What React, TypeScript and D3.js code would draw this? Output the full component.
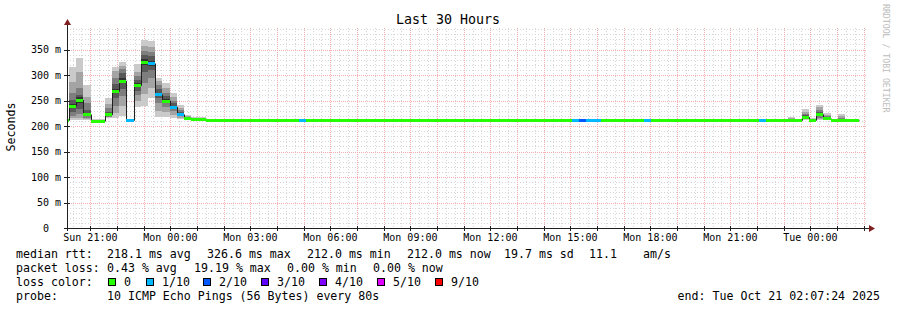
import React from "react";
import * as d3 from "d3";

// ---------- data ----------
const chartTitle = "Last 30 Hours";
const yAxisTitle = "Seconds";
const watermark = "RRDTOOL / TOBI OETIKER";

const startTime = new Date(Date.UTC(2025, 9, 19, 20, 7, 24));
const endTime = new Date(Date.UTC(2025, 9, 21, 2, 7, 24));
const firstStepTime = new Date(Date.UTC(2025, 9, 19, 19, 55, 44));
const stepSeconds = 970;
const yMax = 392.16;

const yTickValues = [0, 50, 100, 150, 200, 250, 300, 350];
const yTickLabels = ["0  ", "50 m", "100 m", "150 m", "200 m", "250 m", "300 m", "350 m"];

// median rtt (ms) per step
const medianRtt = [
  212, 240, 251, 223, 210.5, 210.5, 223, 269, 289, 212,
  280, 326, 323, 262, 250, 238, 223, 216, 214, 214,
  212, 212, 212, 212, 212, 212, 212, 212, 212, 212,
  212, 212, 212, 212, 212, 212, 212, 212, 212, 212,
  212, 212, 212, 212, 212, 212, 212, 212, 212, 212,
  212, 212, 212, 212, 212, 212, 212, 212, 212, 212,
  212, 212, 212, 212, 212, 212, 212, 212, 212, 212,
  212, 212, 212, 212, 212, 212, 212, 212, 212, 212,
  212, 212, 212, 212, 212, 212, 212, 212, 212, 212,
  212, 212, 212, 212, 212, 212, 212, 212, 212, 212,
  212, 212, 212, 218, 212, 223, 215, 212, 212, 212,
  212,
];

// lost pings (of 10) per step
const lostPings = [
  0, 0, 0, 0, 0, 0, 0, 0, 0, 1,
  0, 0, 1, 1, 0, 1, 1, 0, 0, 0,
  0, 0, 0, 0, 0, 0, 0, 0, 0, 0,
  0, 0, 0, 1, 0, 0, 0, 0, 0, 0,
  0, 0, 0, 0, 0, 0, 0, 0, 0, 0,
  0, 0, 0, 0, 0, 0, 0, 0, 0, 0,
  0, 0, 0, 0, 0, 0, 0, 0, 0, 0,
  0, 1, 2, 1, 1, 0, 0, 0, 0, 0,
  0, 1, 0, 0, 0, 0, 0, 0, 0, 0,
  0, 0, 0, 0, 0, 0, 0, 1, 0, 0,
  0, 0, 0, 0, 0, 0, 0, 0, 0, 0,
  0,
];

// steps with visible smoke and their sorted ping times (ms)
const smokeSteps = [1, 2, 3, 4, 5, 6, 7, 8, 9, 10, 11, 12, 13, 14, 15, 16, 17, 18, 19, 101, 103, 104, 105, 106, 108];
const smokePings = [
  [212, 215, 220, 228, 236, 244, 251, 265, 287, 316],
  [212, 216, 224, 234, 246, 256, 261, 274, 305, 333],
  [211, 213, 216, 219, 221, 225, 232, 245, 257, 280],
  [209, 209, 210, 210, 210, 211, 211, 212, 212, 213],
  [209, 210, 210, 210, 210, 211, 211, 211, 212, 213],
  [215, 217, 218, 220, 222, 224, 228, 235, 243, 254],
  [216, 225, 240, 255, 265, 273, 282, 295, 307, 316],
  [220, 240, 258, 272, 284, 294, 303, 312, 318, 326],
  [211, 211, 212, 212, 212, 212, 213, 213, 213, 213],
  [238, 250, 260, 268, 276, 284, 290, 298, 306, 321],
  [239, 262, 285, 305, 320, 332, 340, 348, 356, 369],
  [255, 275, 295, 310, 318, 328, 338, 346, 354, 367],
  [218, 230, 245, 255, 260, 265, 272, 280, 288, 295],
  [218, 228, 238, 245, 249, 253, 258, 265, 274, 285],
  [216, 222, 230, 235, 237, 240, 245, 250, 257, 264],
  [214, 216, 219, 221, 222, 224, 227, 231, 236, 241],
  [213, 214, 215, 215, 216, 216, 217, 218, 219, 221],
  [212, 213, 213, 214, 214, 214, 215, 215, 216, 217],
  [212, 213, 213, 214, 214, 214, 215, 215, 216, 217],
  [211, 211, 212, 212, 212, 212, 213, 213, 215, 218],
  [212, 213, 214, 215, 217, 219, 221, 224, 228, 233],
  [210, 211, 211, 212, 212, 212, 213, 213, 214, 216],
  [212, 214, 216, 219, 222, 224, 228, 232, 237, 242],
  [211, 212, 213, 214, 214, 216, 217, 219, 222, 226],
  [211, 211, 212, 212, 212, 212, 213, 215, 219, 223],
];

const smokeGreys = ["#cacaca", "#a4a4a4", "#7e7e7e", "#585858", "#323232"];

const lossThresholds = [0, 1, 2, 3, 4, 5, 9];
const lossLabels = ["0", "1/10", "2/10", "3/10", "4/10", "5/10", "9/10"];
const lossColors = ["#26ff00", "#00b8ff", "#0059ff", "#5e00ff", "#7e00ff", "#dd00ff", "#ff0000"];

const medianLabel = "median rtt:";
const medianStats = ["218.1 ms avg", "326.6 ms max", "212.0 ms min", "212.0 ms now", "19.7 ms sd", "11.1", "am/s"];
const lossLabel = "packet loss:";
const lossStats = ["0.43 % avg", "19.19 % max", "0.00 % min", "0.00 % now"];
const lossColorLabel = "loss color:";
const probeLabel = "probe:";
const probeText = "10 ICMP Echo Pings (56 Bytes) every 80s";
const endText = "end: Tue Oct 21 02:07:24 2025";

// ---------- layout ----------
const W = 897;
const H = 310;
const L = 67;
const R = 867;
const T = 28;
const B = 228;
const MONO = "'DejaVu Sans Mono', monospace";
const medianStatX = [107, 207, 307, 407, 504, 589, 643];
const lossStatX = [107, 194, 287, 373];
const lossBoxX = [108, 146, 203, 261, 319, 377, 435];
const GRID = "#d6d6d6";
const MGRID = "#f2b0b0";

function lossColor(lost: number) {
  let c = lossColors[0];
  lossThresholds.forEach((t, i) => {
    if (lost >= t) c = lossColors[i];
  });
  return c;
}

export default function App() {
  const x = d3.scaleUtc().domain([startTime, endTime]).range([L, R]);
  const y = d3.scaleLinear().domain([0, yMax]).range([B, T]);

  const stepStart = (i: number) => new Date(firstStepTime.getTime() + i * stepSeconds * 1000);
  const sx = (i: number) => Math.max(L, Math.min(R, Math.round(x(stepStart(i)))));

  const minorH = d3.range(10, 391, 10).filter((v) => v % 50 !== 0);
  const majorH = yTickValues.filter((v) => v > 0);
  const minorV = d3.utcMinute.every(20)!.range(startTime, endTime).filter((d) => d.getUTCMinutes() !== 0);
  const majorV = d3.utcHour.range(startTime, endTime);
  const labelTimes = d3.utcHour.every(3)!.range(startTime, endTime);
  const fmt = d3.utcFormat("%a %H:%M");

  const medianPts: [number, number][] = medianRtt.map((m, i) => [sx(i), y(m)]);
  medianPts.push([sx(medianRtt.length), y(medianRtt[medianRtt.length - 1])]);
  const medianPath = d3.line().curve(d3.curveStepAfter)(medianPts) || "";

  const yr = (v: number) => Math.round(y(v));

  return (
    <svg width={W} height={H} style={{ position: "absolute", left: 0, top: 0, background: "#fff" }}
      xmlns="http://www.w3.org/2000/svg">
      <rect x={0} y={0} width={W} height={H} fill="#ffffff" />
      <defs>
        <clipPath id="plot">
          <rect x={L} y={T - 2} width={R - L} height={B - T + 2} />
        </clipPath>
      </defs>

      {/* grid */}
      <g shapeRendering="crispEdges">
        {minorH.map((v) => (
          <line key={"mh" + v} x1={L} x2={R} y1={yr(v) + 0.5} y2={yr(v) + 0.5}
            stroke={GRID} strokeDasharray="1,2" />
        ))}
        {minorV.map((d) => (
          <line key={"mv" + d.getTime()} x1={Math.round(x(d)) + 0.5} x2={Math.round(x(d)) + 0.5} y1={T} y2={B}
            stroke={GRID} strokeDasharray="1,2" />
        ))}
        {majorH.map((v) => (
          <line key={"Mh" + v} x1={L} x2={R} y1={yr(v) + 0.5} y2={yr(v) + 0.5}
            stroke={MGRID} strokeDasharray="1,1" />
        ))}
        {majorV.map((d) => (
          <line key={"Mv" + d.getTime()} x1={Math.round(x(d)) + 0.5} x2={Math.round(x(d)) + 0.5} y1={T} y2={B}
            stroke={MGRID} strokeDasharray="1,1" />
        ))}
      </g>

      <g clipPath="url(#plot)">
        {/* smoke */}
        <g shapeRendering="crispEdges">
          {smokeSteps.map((s, k) => {
            const p = smokePings[k];
            const n = p.length;
            return smokeGreys.map((g, j) => {
              const lo = p[j];
              const hi = p[n - 1 - j];
              if (hi <= lo) return null;
              return (
                <rect key={"s" + s + "_" + j} x={sx(s)} width={sx(s + 1) - sx(s)}
                  y={y(hi)} height={y(lo) - y(hi)} fill={g} />
              );
            });
          })}
        </g>
        {/* median line */}
        <path d={medianPath} fill="none" stroke="#202020" strokeWidth={1} transform="translate(0.5,0.5)" />
        {/* loss coloured median bands */}
        <g shapeRendering="crispEdges">
          {medianRtt.map((m, i) => (
            <rect key={"m" + i} x={sx(i)} width={sx(i + 1) - sx(i)} y={Math.round(y(m) - 1)} height={3}
              fill={lossColor(lostPings[i])} />
          ))}
        </g>
      </g>

      {/* axes */}
      <g shapeRendering="crispEdges" stroke="#1f1f1f">
        <line x1={L + 0.5} x2={L + 0.5} y1={B + 3} y2={T - 4} />
        <line x1={L - 3} x2={R + 2} y1={B + 0.5} y2={B + 0.5} />
        {majorH.concat([0]).map((v) => (
          <line key={"yt" + v} x1={L - 3} x2={L + 3} y1={yr(v) + 0.5} y2={yr(v) + 0.5} />
        ))}
        {majorV.map((d) => (
          <line key={"xt" + d.getTime()} x1={Math.round(x(d)) + 0.5} x2={Math.round(x(d)) + 0.5} y1={B - 2} y2={B + 3} />
        ))}
      </g>
      <path d={`M${L - 3},${T - 3} L${L + 4},${T - 3} L${L + 0.5},${T - 9} Z`} fill="#801f1f" />
      <path d={`M${R + 2},${B - 3} L${R + 2},${B + 4} L${R + 8},${B + 0.5} Z`} fill="#801f1f" />

      {/* tick labels */}
      <g fontFamily={MONO} fontSize={10} fill="#000">
        {yTickValues.map((v, i) => (
          <text key={"yl" + v} x={61} y={y(v) + 3.5} textAnchor="end" style={{ whiteSpace: "pre" }}>
            {yTickLabels[i]}
          </text>
        ))}
        {labelTimes.map((d) => (
          <text key={"xl" + d.getTime()} x={x(d)} y={241} textAnchor="middle">
            {fmt(d)}
          </text>
        ))}
      </g>

      {/* titles */}
      <text x={448} y={24} textAnchor="middle" fontFamily={MONO} fontSize={13.3} fill="#000">
        {chartTitle}
      </text>
      <text transform="translate(15,127) rotate(-90)" textAnchor="middle" fontFamily={MONO} fontSize={11.6} fill="#000">
        {yAxisTitle}
      </text>
      <text transform="translate(883,4) rotate(90)" fontFamily={MONO} fontSize={8.2} fill="#bcbcbc">
        {watermark}
      </text>

      {/* legend */}
      <g fontFamily={MONO} fontSize={11.6} fill="#000" style={{ whiteSpace: "pre" }}>
        <text x={16} y={258}>{medianLabel}</text>
        {medianStats.map((s, i) => (
          <text key={"ms" + i} x={medianStatX[i]} y={258}>{s}</text>
        ))}
        <text x={16} y={272}>{lossLabel}</text>
        {lossStats.map((s, i) => (
          <text key={"ls" + i} x={lossStatX[i]} y={272}>{s}</text>
        ))}
        <text x={16} y={286}>{lossColorLabel}</text>
        {lossLabels.map((s, i) => (
          <g key={"lc" + i}>
            <rect x={lossBoxX[i] + 0.5} y={278.5} width={7} height={7} fill={lossColors[i]} stroke="#000" strokeWidth={1}
              shapeRendering="crispEdges" />
            <text x={lossBoxX[i] + 16} y={286}>{s}</text>
          </g>
        ))}
        <text x={16} y={300}>{probeLabel}</text>
        <text x={107} y={300}>{probeText}</text>
        <text x={880} y={300} textAnchor="end">{endText}</text>
      </g>
    </svg>
  );
}
